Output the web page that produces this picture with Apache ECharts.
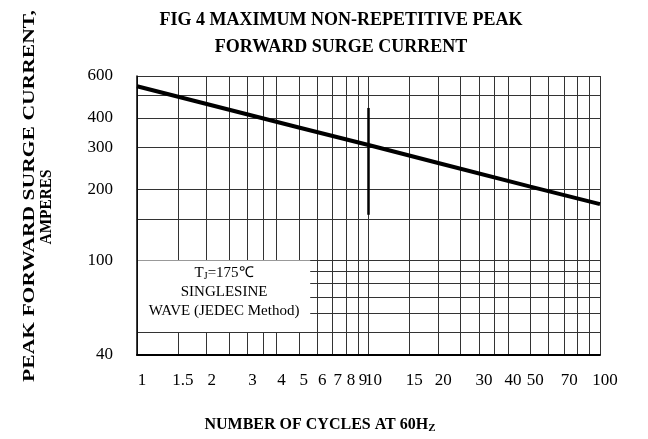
<!DOCTYPE html>
<html><head><meta charset="utf-8">
<script src="https://cdn.jsdelivr.net/npm/echarts@6/dist/echarts.min.js"></script>
<style>html,body{margin:0;padding:0;background:#fff}#c{width:648px;height:439px}</style>
</head><body><div id="c"></div>
<script>
// Data
const cycles = [1, 2, 5, 10, 20, 50, 100];
const surgeCurrent = [543, 457, 364, 307, 258, 205, 173];
// thick artefact segment on the 10-cycle gridline
const markX = [10, 10];
const markY = [440, 156];
// axis ticks / gridlines
const xGridValues = [1,1.5,2,2.5,3,3.5,4,5,6,7,8,9,10,15,20,25,30,35,40,50,60,70,80,90,100];
const xTickLabels = [1,1.5,2,3,4,5,6,7,8,9,10,15,20,30,40,50,70,100];
const yGridValues = [40,50,60,70,80,90,100,150,200,300,400,500,600];
const yTickLabels = [40,100,200,300,400,600];
// note box extent (data units)
const boxX = [1.01, 5.6];
const boxY = [50, 100];

const FONT = 'Liberation Serif';
const chart = echarts.init(document.getElementById('c'), null, {renderer: 'canvas'});
chart.setOption({
  animation: false,
  backgroundColor: '#fff',
  title: {
    text: 'FIG 4 MAXIMUM NON-REPETITIVE PEAK\nFORWARD SURGE CURRENT',
    left: 336, top: 2, textAlign: 'center',
    textStyle: {fontFamily: FONT, fontWeight: 'bold', fontSize: 18, lineHeight: 27, color: '#000'}
  },
  grid: {left: 137, right: 48, top: 76, bottom: 84, containLabel: false},
  xAxis: {
    type: 'log', logBase: 10, min: 1, max: 100,
    axisLine: {show: true, lineStyle: {color: '#000', width: 2}},
    axisTick: {show: false, customValues: xGridValues},
    splitLine: {show: true, lineStyle: {color: '#333', width: 1}},
    minorSplitLine: {show: false},
    axisLabel: {customValues: xTickLabels, interval: 0, margin: 17, hideOverlap: false,
      padding: [0, 0, 0, 10],
      fontFamily: FONT, fontSize: 17, color: '#000'}
  },
  yAxis: {
    type: 'log', logBase: 10, min: 40, max: 600,
    axisLine: {show: true, lineStyle: {color: '#000', width: 1.5}},
    axisTick: {show: false, customValues: yGridValues},
    splitLine: {show: true, lineStyle: {color: '#333', width: 1}},
    axisLabel: {customValues: yTickLabels, margin: 24, hideOverlap: false,
      fontFamily: FONT, fontSize: 17, color: '#000'}
  },
  graphic: [
    {type: 'text', x: 30, y: 196, rotation: Math.PI / 2, scaleX: 1.27,
      style: {text: 'PEAK FORWARD SURGE CURRENT,', align: 'center', verticalAlign: 'middle',
        font: 'bold 17px "Liberation Serif"', fill: '#000'}},
    {type: 'text', x: 47, y: 207, rotation: Math.PI / 2, scaleX: 0.9,
      style: {text: 'AMPERES', align: 'center', verticalAlign: 'middle',
        font: 'bold 17px "Liberation Serif"', fill: '#000'}},
    {type: 'text', x: 320, y: 425,
      style: {text: '{a|NUMBER OF CYCLES AT 60H}{b|Z}', align: 'center', verticalAlign: 'middle',
        rich: {a: {font: 'bold 16px "Liberation Serif"', fill: '#000'},
               b: {font: 'bold 11px "Liberation Serif"', fill: '#000', padding: [7, 0, 0, 0]}}}}
  ],
  series: [
    {
      type: 'line', data: [], z: 3,
      markArea: {
        silent: true,
        itemStyle: {color: '#fff', borderWidth: 0},
        label: {
          show: true, position: 'inside', offset: [0, -4], color: '#000', fontFamily: FONT, fontSize: 15, lineHeight: 19,
          formatter: '{t|T}{s|J}{t|=175℃}\n{t|SINGLESINE}\n{t|WAVE (JEDEC Method)}',
          rich: {t: {fontFamily: FONT, fontSize: 15, color: '#000', lineHeight: 19},
                 s: {fontFamily: FONT, fontSize: 10, color: '#000', lineHeight: 19, padding: [6, 0, 0, 0]}}
        },
        data: [[{coord: [boxX[0], boxY[0]]}, {coord: [boxX[1], boxY[1]]}]]
      }
    },
    {
      type: 'line', data: [], z: 4,
      markLine: {
        silent: true, symbol: 'none', label: {show: false},
        lineStyle: {color: '#000', width: 2.5, type: 'solid'},
        data: [[{coord: [markX[0], markY[0]]}, {coord: [markX[1], markY[1]]}]]
      }
    },
    {
      type: 'line', z: 5,
      data: cycles.map((c, i) => [c, surgeCurrent[i]]),
      symbol: 'none', smooth: false,
      lineStyle: {color: '#000', width: 4}
    }
  ]
});
</script></body></html>
